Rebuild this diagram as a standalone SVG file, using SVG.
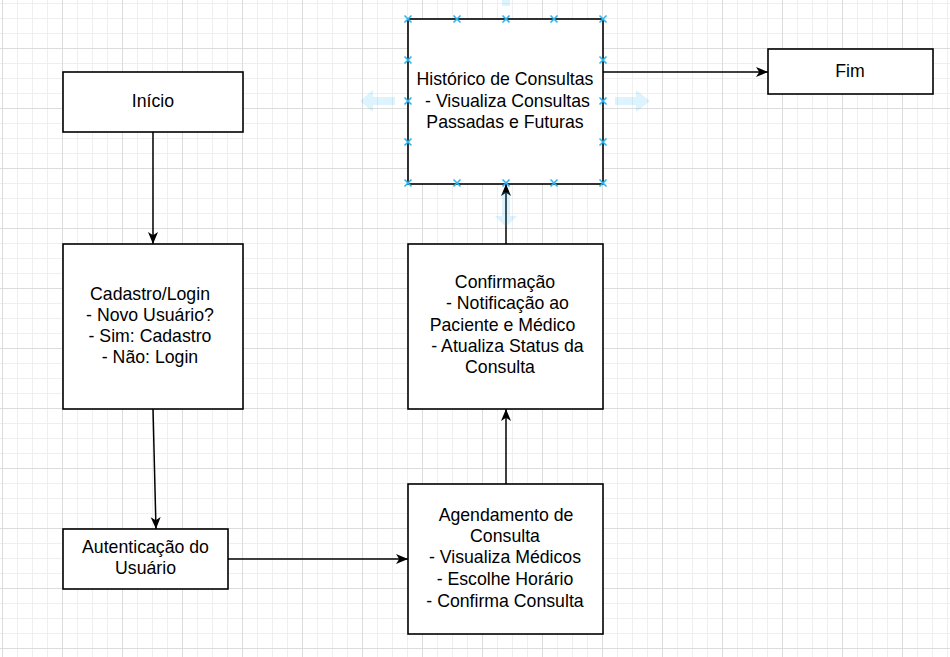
<svg xmlns="http://www.w3.org/2000/svg" width="950" height="657" viewBox="0 0 950 657">
<style>
.node rect{fill:#fff;stroke:#000;stroke-width:1.6}
.node text{font-family:"Liberation Sans",Arial,sans-serif;font-size:17.7px;fill:#000;text-anchor:middle}
.edge{stroke:#000;stroke-width:1.5;fill:none}
.hnd{stroke:#29b6f2;stroke-width:1.6;fill:none}
.hover{fill:#29b6f2;fill-opacity:0.16}
</style>
<defs>
<pattern id="minor" width="15" height="15" patternUnits="userSpaceOnUse" x="2" y="3">
<path d="M0.5,0 V15 M0,0.5 H15" stroke="#efefef" stroke-width="1" fill="none"/>
</pattern>
<pattern id="major" width="60" height="60" patternUnits="userSpaceOnUse" x="2" y="48">
<path d="M0.5,0 V60 M0,0.5 H60" stroke="#dcdcdc" stroke-width="1" fill="none"/>
</pattern>
<marker id="arr" markerUnits="userSpaceOnUse" markerWidth="13" markerHeight="12" refX="12" refY="6" orient="auto" viewBox="0 0 13 12">
<path d="M0,1 L12,6 L0,11 L3.2,6 z" fill="#000"/>
</marker>
<path id="x" d="M-3.5,-3.5 L3.5,3.5 M-3.5,3.5 L3.5,-3.5"/>
</defs>
<rect width="950" height="657" fill="#fff"/>
<rect width="950" height="657" fill="url(#minor)"/>
<rect width="950" height="657" fill="url(#major)"/>

<g id="connectors">
<path class="edge" d="M153,132 V244" marker-end="url(#arr)"/>
<path class="edge" d="M153,409 L156,529" marker-end="url(#arr)"/>
<path class="edge" d="M228,559 H408" marker-end="url(#arr)"/>
<path class="edge" d="M506,484 V409" marker-end="url(#arr)"/>
<path class="edge" d="M506,244 V184" marker-end="url(#arr)"/>
<path class="edge" d="M603,72 H768" marker-end="url(#arr)"/>
</g>

<g id="inicio" class="node">
<rect x="63" y="72" width="180" height="60"/>
<text x="153" y="107">Início</text>
</g>
<g id="cadastro" class="node">
<rect x="63" y="244" width="180" height="165"/>
<text x="150" y="300">Cadastro/Login</text>
<text x="150" y="321">- Novo Usuário?</text>
<text x="150" y="342">- Sim: Cadastro</text>
<text x="150" y="363">- Não: Login</text>
</g>
<g id="autenticacao" class="node">
<rect x="63" y="529" width="165" height="60"/>
<text x="145.5" y="553">Autenticação do</text>
<text x="145.5" y="574">Usuário</text>
</g>
<g id="agendamento" class="node">
<rect x="408" y="484" width="195" height="150"/>
<text x="506" y="521">Agendamento de</text>
<text x="505" y="542">Consulta</text>
<text x="505" y="563">- Visualiza Médicos</text>
<text x="505" y="585">- Escolhe Horário</text>
<text x="505" y="607">- Confirma Consulta</text>
</g>
<g id="confirmacao" class="node">
<rect x="408" y="244" width="195" height="165"/>
<text x="505" y="288">Confirmação</text>
<text x="507.5" y="309">- Notificação ao</text>
<text x="502.5" y="331">Paciente e Médico</text>
<text x="507.5" y="352">- Atualiza Status da</text>
<text x="500" y="373">Consulta</text>
</g>
<g id="historico" class="node">
<rect x="408" y="19" width="195" height="165"/>
<text x="505" y="85">Histórico de Consultas</text>
<text x="507.5" y="107">- Visualiza Consultas</text>
<text x="505" y="128">Passadas e Futuras</text>
</g>
<g id="fim" class="node">
<rect x="768" y="49" width="165" height="45"/>
<text x="850" y="77">Fim</text>
</g>

<g id="selection">
<path class="hover" d="M360,101 L373,90 V97 H395 V105 H373 V112 z"/>
<path class="hover" d="M650,101 L636,90 V97 H615 V105 H636 V112 z"/>
<path class="hover" d="M506,227 L495,216 H502 V192 H510 V216 H517 z"/>
<path class="hover" d="M502,0 H510 V6 H502 z"/>
<g class="hnd">
<use href="#x" x="408" y="19"/><use href="#x" x="457" y="19"/><use href="#x" x="506" y="19"/><use href="#x" x="554" y="19"/><use href="#x" x="603" y="19"/>
<use href="#x" x="408" y="183"/><use href="#x" x="457" y="183"/><use href="#x" x="506" y="183"/><use href="#x" x="554" y="183"/><use href="#x" x="603" y="183"/>
<use href="#x" x="408" y="60"/><use href="#x" x="408" y="101"/><use href="#x" x="408" y="142"/>
<use href="#x" x="603" y="60"/><use href="#x" x="603" y="101"/><use href="#x" x="603" y="142"/>
</g>
</g>
</svg>
